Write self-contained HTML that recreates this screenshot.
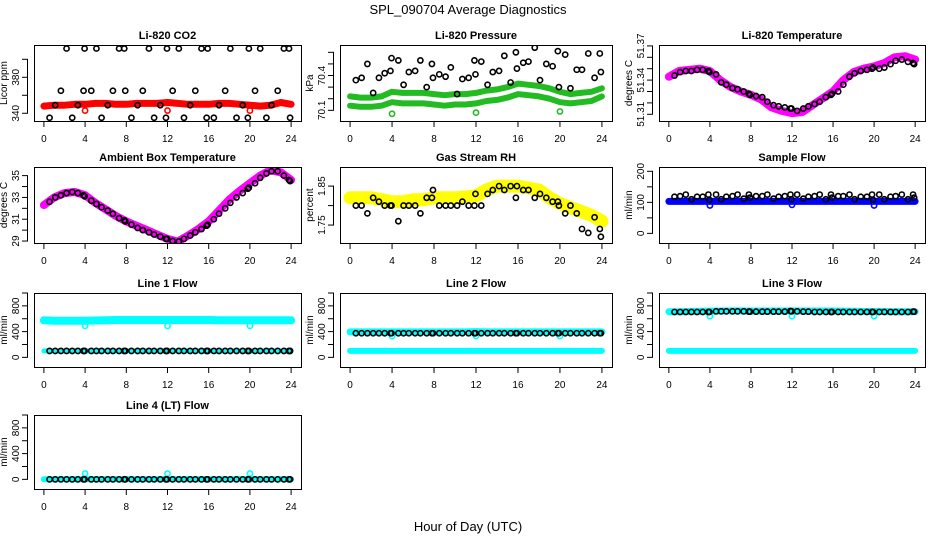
<!DOCTYPE html>
<html><head><meta charset="utf-8"><title>SPL_090704 Average Diagnostics</title>
<style>
html,body{margin:0;padding:0;background:#fff;}
svg{display:block;font-family:"Liberation Sans",sans-serif;}
</style></head>
<body>
<svg id="chart" width="936" height="540" viewBox="0 0 936 540">
<rect width="936" height="540" fill="#fff"/>
<text x="468" y="14" font-size="13" text-anchor="middle">SPL_090704  Average Diagnostics</text>
<text x="468" y="531" font-size="13" text-anchor="middle">Hour of Day (UTC)</text>
</svg>
<script>
// ---- data ----
const xTicks = [0,4,8,12,16,20,24];
const hours = [0,1,2,3,4,5,6,7,8,9,10,11,12,13,14,15,16,17,18,19,20,21,22,23,24];
const blackTimes = [0.55,1.1,1.65,2.2,2.75,3.3,3.85,3.95,4.6,5.1,5.6,6.2,6.7,7.3,7.8,7.9,8.5,9.1,9.6,10.2,10.7,11.3,11.85,11.95,12.5,13.1,13.6,14.2,14.7,15.3,15.8,15.9,16.5,17.0,17.6,18.1,18.7,19.3,19.8,19.9,20.5,21.0,21.6,22.1,22.7,23.3,23.8,23.9];
const outlierTimes = [4,12,20];

const co2Band = [348,349,349,350,350,351,351,350,350,351,351,351,352,351,350,350,350,351,351,350,349,348,349,352,350];
const co2Black = [335,349,365,412,335,349,365,412,365,412,335,349,365,412,412,365,335,349,365,412,335,349,335,412,365,412,335,349,365,412,335,412,335,349,365,412,335,349,335,412,365,412,335,349,365,412,412,335];
const co2Out = [343,343,343];

const presUpper = [70.22,70.21,70.21,70.22,70.26,70.25,70.25,70.25,70.24,70.23,70.24,70.24,70.25,70.27,70.28,70.30,70.33,70.32,70.31,70.29,70.26,70.24,70.25,70.26,70.29];
const presLower = [70.14,70.13,70.13,70.14,70.17,70.16,70.16,70.16,70.15,70.14,70.15,70.15,70.16,70.18,70.19,70.21,70.24,70.23,70.22,70.20,70.17,70.16,70.17,70.18,70.22];
const presBlack = [70.36,70.38,70.5,70.25,70.38,70.42,70.44,70.55,70.53,70.32,70.43,70.44,70.53,70.3,70.5,70.38,70.41,70.39,70.47,70.24,70.37,70.38,70.53,70.41,70.52,70.32,70.43,70.44,70.57,70.34,70.6,70.46,70.51,70.52,70.64,70.36,70.5,70.48,70.61,70.3,70.58,70.29,70.45,70.45,70.59,70.38,70.59,70.43];
const presOut = [70.07,70.08,70.09];

const tempBand = [51.343,51.348,51.349,51.350,51.348,51.340,51.334,51.330,51.327,51.323,51.316,51.313,51.311,51.312,51.318,51.324,51.330,51.340,51.347,51.350,51.352,51.355,51.360,51.361,51.358];
const tempBlack = [51.344,51.347,51.348,51.348,51.349,51.349,51.348,51.347,51.345,51.338,51.336,51.333,51.332,51.330,51.328,51.327,51.326,51.325,51.321,51.318,51.317,51.316,51.315,51.315,51.313,51.315,51.317,51.319,51.321,51.325,51.327,51.328,51.330,51.336,51.343,51.346,51.348,51.349,51.350,51.351,51.350,51.351,51.354,51.357,51.358,51.356,51.355,51.354];

const ambBand = [32.3,33.0,33.4,33.5,33.2,32.5,31.9,31.3,30.8,30.4,30.0,29.6,29.2,28.95,29.5,30.1,30.8,31.8,32.8,33.6,34.3,35.0,35.5,35.3,34.6];
const ambBlack = [32.6,33.0,33.2,33.4,33.5,33.4,33.2,33.1,32.7,32.4,32.1,31.8,31.5,31.1,30.9,30.8,30.5,30.2,30.0,29.8,29.6,29.4,29.2,29.2,29.0,28.95,29.2,29.5,29.8,30.1,30.4,30.5,31.0,31.5,32.0,32.5,33.0,33.4,33.8,33.9,34.3,34.8,35.2,35.4,35.4,35.0,34.6,34.5];

const rhBand = [1.82,1.82,1.82,1.815,1.81,1.81,1.815,1.815,1.82,1.82,1.82,1.822,1.825,1.84,1.85,1.85,1.85,1.845,1.84,1.82,1.805,1.795,1.785,1.775,1.76];
const rhBlack = [1.80,1.80,1.78,1.82,1.81,1.80,1.80,1.80,1.76,1.80,1.80,1.80,1.78,1.82,1.82,1.84,1.80,1.80,1.80,1.80,1.81,1.80,1.80,1.83,1.80,1.83,1.84,1.85,1.84,1.85,1.82,1.85,1.84,1.84,1.82,1.83,1.82,1.81,1.81,1.80,1.78,1.80,1.78,1.74,1.73,1.77,1.74,1.72];

const sampleBand = [103,103,103,103,103,103,103,103,103,103,103,103,103,103,103,103,103,103,103,103,103,103,103,103,103];
const sampleBlack = [118,120,125,110,118,118,125,108,125,110,118,120,125,112,125,115,120,120,125,112,118,120,125,110,125,112,118,120,125,110,125,115,120,120,125,110,118,118,125,108,125,110,118,120,125,110,125,115];
const sampleOut = [90,92,90];

const line1Upper = [575,570,570,570,570,572,575,580,580,580,580,580,580,580,580,580,580,575,575,575,575,575,575,575,575];
const line1Lower = [100,100,100,100,100,100,100,100,100,100,100,100,100,100,100,100,100,100,100,100,100,100,100,100,100];
const line1Black = [100,100,100,100,100,100,100,100,100,100,100,100,100,100,100,100,100,100,100,100,100,100,100,100,100,100,100,100,100,100,100,100,100,100,100,100,100,100,100,100,100,100,100,100,100,100,100,100];
const line1Out = [490,490,490];

const line2Upper = [395,395,395,395,395,395,395,395,395,395,395,395,400,395,395,395,395,395,395,395,395,395,395,395,395];
const line2Lower = [100,100,100,100,100,100,100,100,100,100,100,100,100,100,100,100,100,100,100,100,100,100,100,100,100];
const line2Black = [375,375,375,375,375,375,375,375,375,375,375,375,375,375,375,375,375,375,375,375,375,375,375,375,375,375,375,375,375,375,375,375,375,375,375,375,375,375,375,375,375,375,375,375,375,375,375,375];
const line2Out = [330,330,330];

const line3Upper = [710,710,712,715,718,720,722,722,720,720,720,720,722,720,720,720,720,718,715,712,712,712,710,710,710];
const line3Lower = [100,100,100,100,100,100,100,100,100,100,100,100,100,100,100,100,100,100,100,100,100,100,100,100,100];
const line3Black = [705,705,705,705,705,705,705,705,715,715,715,715,715,715,710,710,710,710,710,710,710,710,720,715,715,710,710,705,705,705,705,705,705,705,705,705,705,705,705,705,705,705,705,705,705,705,710,710];
const line3Out = [640,640,640];

const line4Band = [0,0,0,0,0,0,0,0,0,0,0,0,0,0,0,0,0,0,0,0,0,0,0,0,0];
const line4Black = [0,0,0,0,0,0,0,0,0,0,0,0,0,0,0,0,0,0,0,0,0,0,0,0,0,0,0,0,0,0,0,0,0,0,0,0,0,0,0,0,0,0,0,0,0,0,0,0];
const line4Out = [90,90,90];

// ---- drawing ----
const NS = 'http://www.w3.org/2000/svg';
const svg = document.getElementById('chart');
const COLS = [[34,301],[340,612],[659,925]];
const ROWS = [[45,121],[167,243],[293,367],[415,489]];
const XMIN = -0.96, XMAX = 24.96;

function mk(tag, attrs, parent) {
  const e = document.createElementNS(NS, tag);
  for (const k in attrs) e.setAttribute(k, attrs[k]);
  (parent || svg).appendChild(e);
  return e;
}

function panel(col, row, name, title, ylab, ymin, ymax, yTicks, yLabels) {
  const [x0, x1] = COLS[col], [y0, y1] = ROWS[row];
  const g = mk('g', {});
  
  
  const sx = v => x0 + (v - XMIN) / (XMAX - XMIN) * (x1 - x0);
  const sy = v => y1 - (v - ymin) / (ymax - ymin) * (y1 - y0);
  const t = mk('text', {x: (x0 + x1) / 2, y: y0 - 6, 'font-size': 11, 'font-weight': 'bold', 'text-anchor': 'middle'}, g);
  t.textContent = title;
  
  
  const xa = mk('g', {}, g);
  
  
  mk('line', {x1: sx(xTicks[0]), x2: sx(xTicks[xTicks.length - 1]), y1: y1 + 0.5, y2: y1 + 0.5, stroke: '#000'}, xa);
  xTicks.forEach(v => {
    mk('line', {x1: sx(v), x2: sx(v), y1: y1, y2: y1 + 6, stroke: '#000'}, xa);
    const l = mk('text', {x: sx(v), y: y1 + 21, 'font-size': 10, 'text-anchor': 'middle'}, xa);
    l.textContent = v;
  });
  const ya = mk('g', {}, g);
  
  
  mk('line', {x1: x0 - 6.5, x2: x0 - 6.5, y1: sy(yTicks[0]), y2: sy(yTicks[yTicks.length - 1]), stroke: '#000'}, ya);
  yTicks.forEach(v => {
    mk('line', {x1: x0 - 12, x2: x0 - 6, y1: sy(v), y2: sy(v), stroke: '#000'}, ya);
  });
  yLabels.forEach(lb => {
    const yy = sy(lb[0]);
    const l = mk('text', {x: x0 - 15, y: yy, 'font-size': 10, 'text-anchor': 'middle', transform: `rotate(-90 ${x0 - 15} ${yy})`}, ya);
    l.textContent = lb[1];
  });
  const yl = mk('text', {x: x0 - 27, y: (y0 + y1) / 2, 'font-size': 10, 'text-anchor': 'middle', transform: `rotate(-90 ${x0 - 27} ${(y0 + y1) / 2})`}, g);
  yl.textContent = ylab;
  
  
  const clip = mk('clipPath', {id: 'clip-' + name}, g);
  mk('rect', {x: x0, y: y0, width: x1 - x0, height: y1 - y0}, clip);
  const plot = mk('g', {'clip-path': `url(#clip-${name})`}, g);
  
  
  mk('rect', {x: x0 + 0.5, y: y0 + 0.5, width: x1 - x0, height: y1 - y0, fill: 'none', stroke: '#000'}, g);
  return {sx, sy, plot, name};
}

function band(p, xs, ys, color, w, nm) {
  const pts = xs.map((x, i) => p.sx(x).toFixed(1) + ',' + p.sy(ys[i]).toFixed(1)).join(' ');
  const pl = mk('polyline', {points: pts, fill: 'none', stroke: color, 'stroke-width': w, 'stroke-linejoin': 'round', 'stroke-linecap': 'round'}, p.plot);
  
  
}
function pts(p, xs, ys, color, nm) {
  const g = mk('g', {}, p.plot);
  
  
  xs.forEach((x, i) => {
    mk('circle', {cx: p.sx(x), cy: p.sy(ys[i]), r: 2.6, fill: 'none', stroke: color, 'stroke-width': 1.6}, g);
  });
}

let p = panel(0, 0, 'co2', 'Li-820 CO2', 'Licor ppm', 331.4, 415.9, [340,360,380,400], [[340,'340'],[380,'380']]);
band(p, hours, co2Band, '#ff0000', 7, 'co2-band');
pts(p, outlierTimes, co2Out, '#ff0000', 'co2-outliers');
pts(p, blackTimes, co2Black, '#000', 'co2-samples');

p = panel(1, 0, 'pressure', 'Li-820 Pressure', 'kPa', 70.008, 70.663, [70.1,70.2,70.3,70.4,70.5,70.6], [[70.1,'70.1'],[70.4,'70.4']]);
band(p, hours, presUpper, '#22bb22', 6, 'pressure-upper-band');
band(p, hours, presLower, '#22bb22', 6, 'pressure-lower-band');
pts(p, outlierTimes, presOut, '#22bb22', 'pressure-outliers');
pts(p, blackTimes, presBlack, '#000', 'pressure-samples');

p = panel(2, 0, 'li820-temp', 'Li-820 Temperature', 'degrees C', 51.3041, 51.3708, [51.31,51.32,51.33,51.34,51.35,51.36,51.37], [[51.31,'51.31'],[51.34,'51.34'],[51.37,'51.37']]);
band(p, hours, tempBand, '#ff00ff', 8, 'temp-band');
pts(p, blackTimes, tempBlack, '#000', 'temp-samples');

p = panel(0, 1, 'ambient-temp', 'Ambient Box Temperature', 'degrees C', 28.82, 35.79, [29,30,31,32,33,34,35], [[29,'29'],[31,'31'],[33,'33'],[35,'35']]);
band(p, hours, ambBand, '#ff00ff', 8, 'ambient-band');
pts(p, blackTimes, ambBlack, '#000', 'ambient-samples');

p = panel(1, 1, 'rh', 'Gas Stream RH', 'percent', 1.704, 1.899, [1.75,1.80,1.85], [[1.75,'1.75'],[1.85,'1.85']]);
band(p, hours, rhBand, '#ffff00', 13, 'rh-band');
pts(p, blackTimes, rhBlack, '#000', 'rh-samples');

p = panel(2, 1, 'sample-flow', 'Sample Flow', 'ml/min', -31, 213.9, [0,50,100,150,200], [[0,'0'],[100,'100'],[200,'200']]);
band(p, hours, sampleBand, '#0000ff', 7, 'sample-band');
pts(p, outlierTimes, sampleOut, '#0000ff', 'sample-outliers');
pts(p, blackTimes, sampleBlack, '#000', 'sample-samples');

const flowTicks = [0,200,400,600,800,1000];
const flowLabels = [[0,'0'],[400,'400'],[800,'800']];
p = panel(0, 2, 'line1-flow', 'Line 1 Flow', 'ml/min', -150, 1000, flowTicks, flowLabels);
band(p, hours, line1Upper, '#00ffff', 8, 'line1-upper-band');
band(p, hours, line1Lower, '#00ffff', 5, 'line1-lower-band');
pts(p, outlierTimes, line1Out, '#00ffff', 'line1-outliers');
pts(p, blackTimes, line1Black, '#000', 'line1-samples');

p = panel(1, 2, 'line2-flow', 'Line 2 Flow', 'ml/min', -150, 1000, flowTicks, flowLabels);
band(p, hours, line2Upper, '#00ffff', 7, 'line2-upper-band');
band(p, hours, line2Lower, '#00ffff', 6, 'line2-lower-band');
pts(p, outlierTimes, line2Out, '#00ffff', 'line2-outliers');
pts(p, blackTimes, line2Black, '#000', 'line2-samples');

p = panel(2, 2, 'line3-flow', 'Line 3 Flow', 'ml/min', -150, 1000, flowTicks, flowLabels);
band(p, hours, line3Upper, '#00ffff', 7, 'line3-upper-band');
band(p, hours, line3Lower, '#00ffff', 6, 'line3-lower-band');
pts(p, outlierTimes, line3Out, '#00ffff', 'line3-outliers');
pts(p, blackTimes, line3Black, '#000', 'line3-samples');

p = panel(0, 3, 'line4-flow', 'Line 4 (LT) Flow', 'ml/min', -150, 1000, flowTicks, flowLabels);
band(p, hours, line4Band, '#00ffff', 6, 'line4-band');
pts(p, outlierTimes, line4Out, '#00ffff', 'line4-outliers');
pts(p, blackTimes, line4Black, '#000', 'line4-samples');
</script>
</body></html>
